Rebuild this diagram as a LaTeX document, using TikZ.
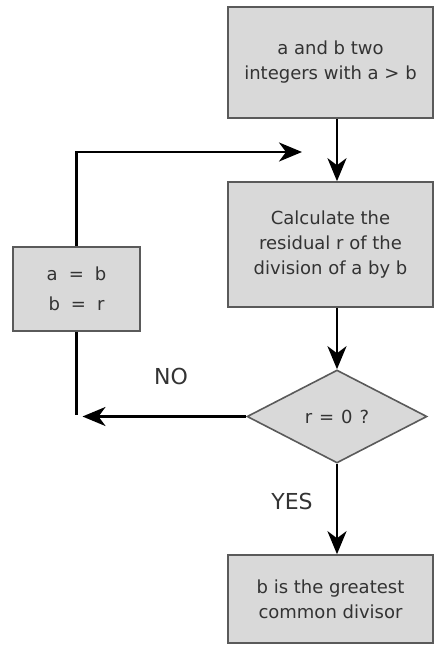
\documentclass[tikz,border=0pt]{standalone}
\usepackage{fontspec}
\setmainfont{DejaVu Sans}
\usetikzlibrary{shapes.geometric,arrows.meta}
\definecolor{boxfill}{HTML}{D9D9D9}
\definecolor{boxline}{HTML}{5A5A5A}
\definecolor{txt}{HTML}{333333}
\begin{document}
\begin{tikzpicture}[x=1pt,y=-1pt,
  box/.style={draw=boxline, line width=1.6pt, fill=boxfill, inner sep=0pt,
    text=txt, font=\fontsize{18}{25}\selectfont, align=center},
  decision/.style={box, shape=diamond, aspect=1.94},
  lbl/.style={text=txt, font=\fontsize{22}{26}\selectfont, inner sep=0pt},
  flow/.style={line width=2.8pt, black},
  arr/.style={flow, -{Stealth[length=23pt,width=19pt,inset=7pt]}}]
\useasboundingbox (0,0) rectangle (435,646);
\node[box, minimum width=205, minimum height=111] (start) at (330.5,62.5)
  {a and b two\\integers with a > b};
\node[box, minimum width=205, minimum height=125] (calc) at (330.5,244.5)
  {Calculate the\\residual r of the\\division of a by b};
\node[decision, minimum width=180, minimum height=93] (dia) at (337,416.5)
  {r\hspace{7pt}=\hspace{7pt}0\hspace{7pt}?};
\node[box, minimum width=205, minimum height=88] (fin) at (330.5,599)
  {b is the greatest\\common divisor};
\node[box, minimum width=127, minimum height=84, font=\fontsize{18}{30}\selectfont] (upd) at (76.5,289)
  {a\hspace{11pt}=\hspace{11pt}b\\b\hspace{11pt}=\hspace{11pt}r};
\node[lbl] (no) at (171,376) {NO};
\node[lbl] (yes) at (292,501) {YES};
\coordinate (looptip) at (302,152);
\coordinate (corner) at (upd.south |- dia.west);
\coordinate (noend) at ([xshift=6pt]corner);
\draw[arr] (start.south -| dia.north) -- (calc.north -| dia.north);
\draw[arr] (calc.south -| dia.north) -- (dia.north);
\draw[arr] (dia.south) -- (fin.north -| dia.south);
\draw[arr] (dia.west) -- (noend);
\draw[flow] (upd.south) -- ([yshift=1.4pt]corner);
\draw[arr] (upd.north) |- (looptip);
\end{tikzpicture}
\end{document}
